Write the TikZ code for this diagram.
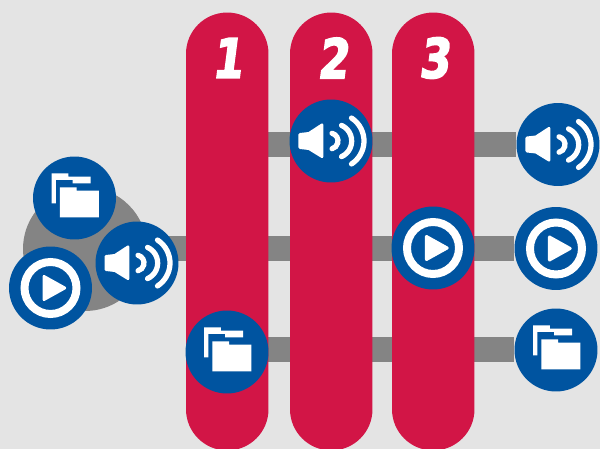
\documentclass[tikz,border=0pt]{standalone}
\usepackage{fontspec}
\usetikzlibrary{backgrounds}
\newfontfamily\numfont[FakeSlant=0.13,FakeStretch=0.8,FakeBold=3]{DejaVu Sans}
\definecolor{pageGrey}{HTML}{E4E4E4}
\definecolor{barGrey}{HTML}{848484}
\definecolor{pillRed}{HTML}{D21546}
\definecolor{iconBlue}{HTML}{0054A0}
\tikzset{
  pill/.style     = {rectangle, fill=pillRed, inner sep=0pt, minimum width=1.65cm,
                     minimum height=8.76cm, rounded corners=0.825cm},
  badge/.style    = {circle, fill=iconBlue, inner sep=0pt, minimum size=1.66cm},
  bar/.style      = {barGrey, line width=0.5cm},
  num/.style      = {font=\numfont\fontsize{31}{31}\selectfont\bfseries, text=white, inner sep=0pt},
  foldericon/.pic = {
    \fill[white] (-22.8,-24.7) -- (-6.2,-24.7) -- (-6.2,-21.3) -- (16.2,-21.3) -- (16.2,-14.7)
      -- (-1.8,-14.7) -- (-1.8,-18) -- (-18.5,-18) -- (-18.5,5.3) -- (-22.8,5.3) -- cycle;
    \fill[white] (-14.5,-10.7) -- (2.2,-10.7) -- (2.2,-7.3) -- (24.5,-7.3) -- (24.5,19.3)
      -- (-14.5,19.3) -- cycle;
  },
  playicon/.pic = {
    \draw[white, line width=0.16cm] (0,0) circle[radius=26];
    \filldraw[white, line width=0.06cm, line join=round] (-6.5,-11.5) -- (14.2,0) -- (-6.5,11.5) -- cycle;
  },
  speakericon/.pic = {
    \filldraw[white, line width=0.06cm, line join=round] (-31,-6.5) -- (-22,-7.5) -- (-9,-16)
      -- (-9,15.5) -- (-22,7.5) -- (-31,6.5) -- cycle;
    \begin{scope}[white, line width=0.105cm, line cap=round]
      \draw (-1,0) ++(-75:8) arc[start angle=-75, end angle=75, radius=8];
      \draw (3.6,0) ++(-66:17.1) arc[start angle=-66, end angle=66, radius=17.1];
      \draw (5.6,0) ++(-57:27.4) arc[start angle=-57, end angle=57, radius=27.4];
    \end{scope}
  },
}
\begin{document}
\begin{tikzpicture}[x=0.02cm, y=-0.02cm]
  \useasboundingbox (0,0) rectangle (600,449);

  \node[pill] (pillA) at (227.25,231.5) {};
  \node[pill] (pillB) at (331.25,231.5) {};
  \node[pill] (pillC) at (433.25,231.5) {};
  \node[num] (numA) at (227,58) {1};
  \node[num] (numB) at (332.5,58) {2};
  \node[num] (numC) at (434,58) {3};

  % the bundle on the left
  \node[circle, fill=barGrey, inner sep=0pt, minimum size=2.48cm] (hub) at (85,249) {};
  \node[badge] (folderIn) at (74.5,198) {};
  \node[badge] (playIn) at (50.5,288) {};
  \node[badge] (audioIn) at (137,263) {};

  % one stage per stream
  \node[badge] (audioB) at (331,141) {};
  \node[badge] (playC) at (433,248) {};
  \node[badge] (folderA) at (227,352) {};

  \node[badge] (audioOut) at (558,144.5) {};
  \node[badge] (playOut) at (556,248.5) {};
  \node[badge] (folderOut) at (556,350) {};

  \begin{scope}[on background layer]
    \fill[pageGrey] (0,0) rectangle (600,449);
    \draw[bar] (pillA |- audioOut) -- (audioOut);
    \draw[bar] (hub |- playOut) -- (playOut);
    \draw[bar] (pillA |- folderOut) -- (folderOut);
  \end{scope}

  \pic at (folderIn) {foldericon};
  \pic at (folderA) {foldericon};
  \pic at (folderOut) {foldericon};
  \pic at (playIn) {playicon};
  \pic at (playC) {playicon};
  \pic at (playOut) {playicon};
  \pic at (audioIn) {speakericon};
  \pic at (audioB) {speakericon};
  \pic at (audioOut) {speakericon};
\end{tikzpicture}
\end{document}
